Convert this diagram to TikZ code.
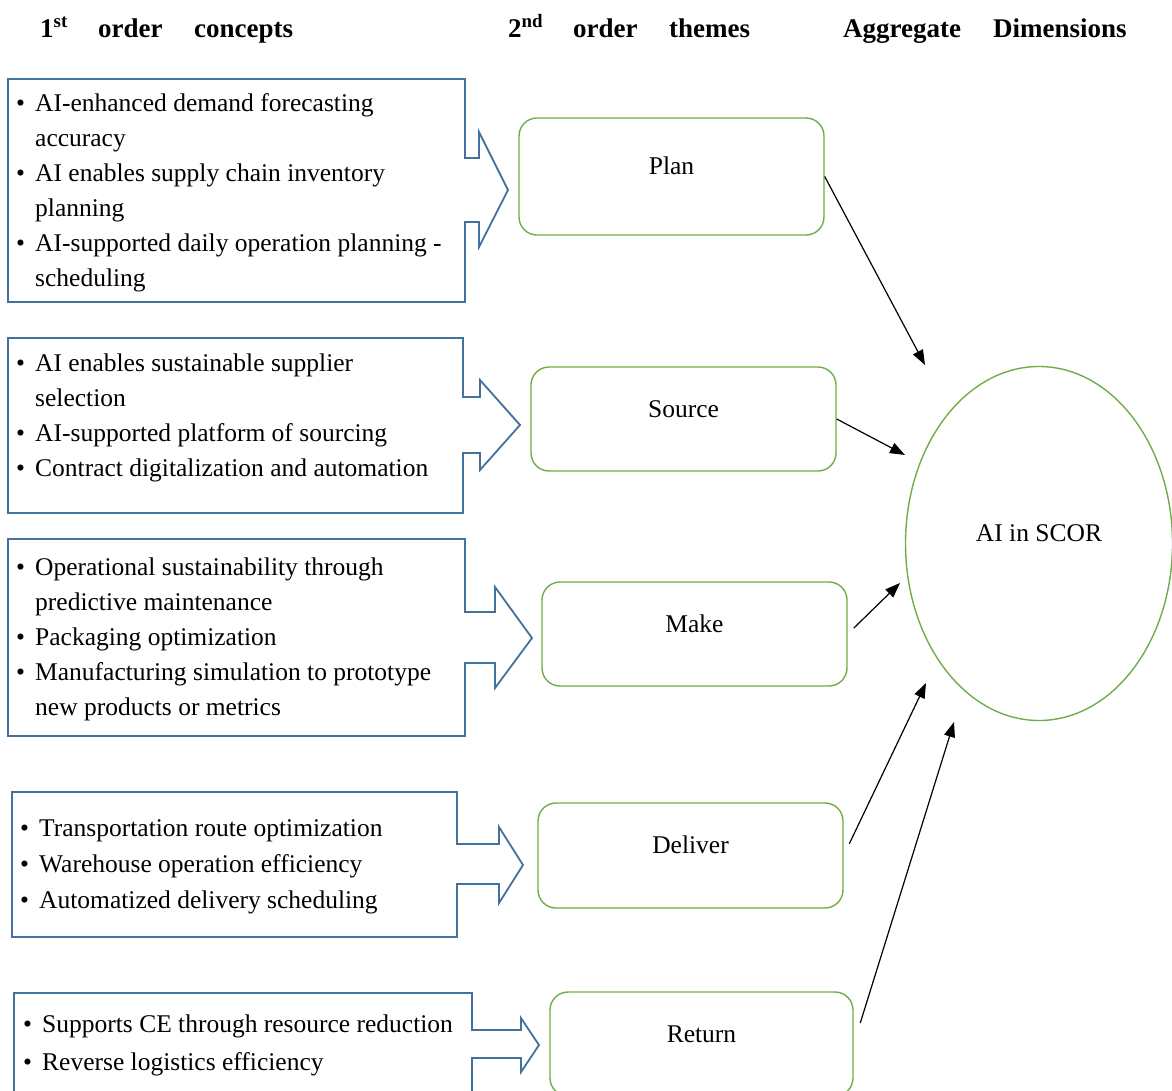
\documentclass[tikz,border=0pt]{standalone}
\usepackage{fontspec}
\setmainfont{Liberation Serif}
\usetikzlibrary{arrows.meta,shapes.geometric}
\definecolor{calblue}{RGB}{65,113,156}
\definecolor{boxgreen}{RGB}{112,173,71}
\newcommand\bul{\makebox[19pt][l]{\textbullet}}
\begin{document}
\begin{tikzpicture}[x=1pt,y=-1pt,
  callout/.style={draw=calblue, line width=1.8pt, line join=miter},
  theme/.style={draw=boxgreen, line width=1.4pt, rounded corners=18pt,
    minimum width=305pt, minimum height=104pt, inner sep=0pt,
    font=\fontsize{25.5}{30}\selectfont, text height=16pt, text depth=20pt},
  items/.style={anchor=base west, inner sep=0pt},
  head/.style={anchor=base west, inner sep=0pt, font=\fontsize{27}{32}\selectfont\bfseries},
  link/.style={-{Triangle[length=15pt,width=11pt]}, line width=1.2pt}]
\useasboundingbox (0,0) rectangle (1172,1090);
\begin{scope}
\clip (0,0) rectangle (1172,1090);

% headers
\node[head] (h1) at (40,37) {1\textsuperscript{st}};
\node[head] (h2) at (98,37) {order};
\node[head] (h3) at (194,37) {concepts};
\node[head] (h4) at (508,37) {2\textsuperscript{nd}};
\node[head] (h5) at (573,37) {order};
\node[head] (h6) at (669,37) {themes};
\node[head] (h7) at (843,37) {Aggregate};
\node[head] (h8) at (993,37) {Dimensions};

% callouts
\draw[callout] (8,79) -- (465,79) -- (465,158) -- (479,158) -- (479,132) -- (508,190)
  -- (479,247) -- (479,222) -- (465,222) -- (465,302) -- (8,302) -- cycle;
\draw[callout] (8,338) -- (463,338) -- (463,397) -- (480,397) -- (480,380) -- (520,425)
  -- (480,470) -- (480,453) -- (463,453) -- (463,513) -- (8,513) -- cycle;
\draw[callout] (8,539) -- (465,539) -- (465,612) -- (495,612) -- (495,587) -- (532,638)
  -- (495,688) -- (495,663) -- (465,663) -- (465,736) -- (8,736) -- cycle;
\draw[callout] (12,792) -- (457,792) -- (457,844) -- (499,844) -- (499,827) -- (523,865)
  -- (499,903) -- (499,884) -- (457,884) -- (457,937) -- (12,937) -- cycle;
\draw[callout] (14,993) -- (472,993) -- (472,1030) -- (521,1030) -- (521,1018) -- (539,1045)
  -- (521,1072) -- (521,1058) -- (472,1058) -- (472,1100) -- (14,1100) -- cycle;

% callout texts
\node[items, font=\fontsize{25.5}{35}\selectfont] (i1) at (16,111) {\begin{tabular}[t]{@{}l@{}l@{}}
\bul & AI-enhanced demand forecasting\\
 & accuracy\\
\bul & AI enables supply chain inventory\\
 & planning\\
\bul & AI-supported daily operation planning -\\
 & scheduling
\end{tabular}};
\node[items, font=\fontsize{25.5}{35.3}\selectfont] (i2) at (16,371) {\begin{tabular}[t]{@{}l@{}l@{}}
\bul & AI enables sustainable supplier\\
 & selection\\
\bul & AI-supported platform of sourcing\\
\bul & Contract digitalization and automation
\end{tabular}};
\node[items, font=\fontsize{25.5}{35.2}\selectfont] (i3) at (16,575) {\begin{tabular}[t]{@{}l@{}l@{}}
\bul & Operational sustainability through\\
 & predictive maintenance\\
\bul & Packaging optimization\\
\bul & Manufacturing simulation to prototype\\
 & new products or metrics
\end{tabular}};
\node[items, font=\fontsize{25.5}{36}\selectfont] (i4) at (20,836) {\begin{tabular}[t]{@{}l@{}l@{}}
\bul & Transportation route optimization\\
\bul & Warehouse operation efficiency\\
\bul & Automatized delivery scheduling
\end{tabular}};
\node[items, font=\fontsize{25.5}{38}\selectfont] (i5) at (23,1032) {\begin{tabular}[t]{@{}l@{}l@{}}
\bul & Supports CE through resource reduction\\
\bul & Reverse logistics efficiency
\end{tabular}};

% themes
\node[theme, minimum height=117pt] (plan) at (671.5,176.5) {Plan};
\node[theme] (source) at (683.5,419) {Source};
\node[theme] (make) at (694.5,634) {Make};
\node[theme, minimum height=105pt] (deliver) at (690.5,855.5) {Deliver};
\node[theme, minimum width=303pt] (return) at (701.5,1044) {Return};

% aggregate
\node[ellipse, draw=boxgreen, line width=1.4pt, minimum width=267pt, minimum height=354pt,
  inner sep=0pt, font=\fontsize{25.5}{30}\selectfont, text height=16pt, text depth=20pt]
  (scor) at (1039,543.5) {AI in SCOR};

% arrow tips
\coordinate (t1) at (925,365);
\coordinate (t2) at (905,455);
\coordinate (t3) at (900,583);
\coordinate (t4) at (926,683);
\coordinate (t5) at (954,722);

\draw[link] (plan.east) -- (t1);
\draw[link] (source.east) -- (t2);
\draw[link, shorten <=8.5pt] (make.east) -- (t3);
\draw[link, shorten <=13pt] (deliver.east) -- (t4);
\draw[link, shorten <=22pt] (return.east) -- (t5);
\end{scope}
\end{tikzpicture}
\end{document}
